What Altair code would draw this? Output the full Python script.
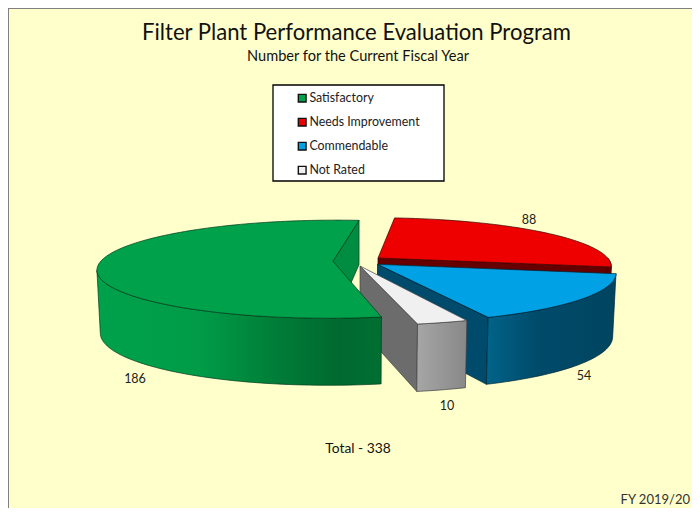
import math
import altair as alt

# ---- chart values ----
categories = ["Satisfactory", "Needs Improvement", "Commendable", "Not Rated"]
counts = [186, 88, 54, 10]
legend_colors = ["#00A14B", "#EE0000", "#00A2E5", "#F0F0F0"]
title_text = "Filter Plant Performance Evaluation Program"
subtitle_text = "Number for the Current Fiscal Year"
footer_text = "FY 2019/20"

# ---- look of each slice ----
face_colors = {"Satisfactory": "#008C41", "Needs Improvement": "#660000",
               "Commendable": "#004A6B", "Not Rated": "#6C6C6C"}
rim_stops = {
    "Satisfactory": [(0.0, "#00A14B"), (0.36, "#009C48"), (0.6, "#008039"), (0.85, "#00692F"), (1.0, "#006F32")],
    "Needs Improvement": [(0.0, "#660000"), (1.0, "#660000")],
    "Commendable": [(0.0, "#006488"), (0.12, "#005C80"), (0.4, "#004A6A"), (1.0, "#00455F")],
    "Not Rated": [(0.0, "#A6A6A6"), (1.0, "#888888")],
}
edge_colors = {"Satisfactory": "#003A1B", "Needs Improvement": "#3A0000",
               "Commendable": "#002636", "Not Rated": "#444444"}
label_spots = {"Satisfactory": (127, 371), "Needs Improvement": (521, 212),
               "Commendable": (576, 368), "Not Rated": (439, 398)}
# small angle corrections for the distortion of the 3-D view (start, end), degrees
angle_tweak = {"Satisfactory": (0.0, -0.5), "Needs Improvement": (-1.4, 0.0),
               "Commendable": (0.0, -1.0), "Not Rated": (0.7, 0.7)}
apex_shift = {"Satisfactory": 0.0, "Needs Improvement": 0.0, "Commendable": 0.0, "Not Rated": -0.022}

# ---- 3-D projection settings (page pixels minus 8 px page margin) ----
CX, CY, RX, RY, K = 350.0, 253.0, 232.0, 47.7, 0.163
EXPLODE, START = 0.108, 7.0
STEP = 1.5
W, H = 684, 500


def project(X, Y, low=False):
    w = 1 / (1 - K * Y)
    x = RX * X * w
    y = CY + RY * Y * w
    if low:
        y += 62 + (5 * Y if Y > 0 else 18 * Y)
        x *= 0.987
    return [CX + x, y]


total = sum(counts)
spans = {}
a = START - counts[0] / total * 360
for cat, n in zip(categories, counts):
    b = a + n / total * 360
    spans[cat] = (a, b)
    a = b


def drawn_span(cat):
    a, b = spans[cat]
    return a + angle_tweak[cat][0], b + angle_tweak[cat][1]


def centre(cat):
    a, b = spans[cat]
    m = math.radians((a + b) / 2)
    return EXPLODE * math.sin(m), -EXPLODE * math.cos(m)


def apex(cat):
    ox, oy = centre(cat)
    return ox + apex_shift[cat], oy


def rim(cat, deg):
    ox, oy = centre(cat)
    t = math.radians(deg)
    return ox + math.sin(t), oy - math.cos(t)


def arc_degs(a, b):
    n = max(2, int((b - a) / STEP))
    return [a + (b - a) * i / n for i in range(n + 1)]


def polygon(points):
    return {"type": "Feature", "geometry": {"type": "Polygon", "coordinates": [points + [points[0]]]},
            "properties": {}}


def face_polygon(cat):
    ox, oy = apex(cat)
    ex, ey = rim(cat, drawn_span(cat)[1])
    return polygon([project(ox, oy), project(ex, ey), project(ex, ey, True), project(ox, oy, True)])


def rim_polygon(cat):
    a, b = drawn_span(cat)
    if a < -90:                      # the big slice: from its start round to the left-most point
        degs = [d for d in arc_degs(a, b) if d <= -90]
        left = min(degs, key=lambda d: project(*rim(cat, d))[0])
        degs = [d for d in degs if d <= left]
    else:
        degs = arc_degs(max(a, 90), min(b, 270))
    top = [project(*rim(cat, d)) for d in degs]
    low = [project(*rim(cat, d), True) for d in degs]
    return polygon(top + low[::-1])


def top_polygon(cat):
    a, b = drawn_span(cat)
    return polygon([project(*apex(cat))] + [project(*rim(cat, d)) for d in arc_degs(a, b)])


projection = alt.Projection(type="identity", scale=1, translate=[0, 0]).to_dict()
layers = []

# plot frame
frame = alt.Chart(alt.Data(values=[{"v": 0}])).mark_rule(color="#808080", strokeWidth=2)
layers.append(frame.encode(x=alt.value(0), y=alt.value(0), y2=alt.value(H)))
layers.append(frame.encode(x=alt.value(0), x2=alt.value(W), y=alt.value(0)))

# legend box, under the legend itself
layers.append(alt.Chart(alt.Data(values=[{"v": 0}])).mark_rect(
    fill="white", stroke="black", strokeWidth=1.3
).encode(x=alt.value(265), x2=alt.value(436), y=alt.value(77), y2=alt.value(173)))

color_scale = alt.Scale(domain=categories, range=legend_colors)
legend = alt.Legend(
    orient="none", legendX=288, legendY=84, title=None, padding=0, zindex=1,
    symbolType="square", symbolSize=60, symbolStrokeColor="#111111", symbolStrokeWidth=1.4,
    labelFont="Lato", labelFontSize=12.4, labelColor="#222222", rowPadding=10,
    labelOffset=1, labelLimit=200,
)

# drawn from back to front
for cat in ["Needs Improvement", "Commendable", "Not Rated", "Satisfactory"]:
    edge = edge_colors[cat]
    layers.append(
        alt.Chart(alt.Data(values=[face_polygon(cat)])).mark_geoshape(
            fill=face_colors[cat], stroke=edge, strokeWidth=0.7
        ).project(**projection)
    )
    stops = [alt.GradientStop(offset=o, color=c) for o, c in rim_stops[cat]]
    layers.append(
        alt.Chart(alt.Data(values=[rim_polygon(cat)])).mark_geoshape(
            fill=alt.LinearGradient(gradient="linear", stops=stops, x1=0, x2=1, y1=0, y2=0),
            stroke=edge, strokeWidth=0.7,
        ).project(**projection)
    )
    layers.append(
        alt.Chart(alt.Data(values=[dict(top_polygon(cat), properties={"cat": cat})])).mark_geoshape(
            stroke=edge, strokeWidth=0.7
        ).encode(
            color=alt.Color("properties.cat:N", scale=color_scale, legend=legend),
        ).project(**projection)
    )


def note(text, x, y, size, align="center", color="#111111"):
    return alt.Chart(alt.Data(values=[{"t": text}])).mark_text(
        font="Lato", fontSize=size, align=align, baseline="middle", color=color
    ).encode(x=alt.value(x), y=alt.value(y), text="t:N")


for cat, n in zip(categories, counts):
    x, y = label_spots[cat]
    layers.append(note(str(n), x, y, 12.5, color="#222222"))

layers.append(note(title_text, 348.5, 25, 22.1))
layers.append(note(subtitle_text, 350, 49, 14.6))
layers.append(note(f"Total - {total}", 350, 441, 13.8))
layers.append(note(footer_text, 682, 492, 13, align="right", color="#333333"))

chart = alt.layer(*layers).properties(
    width=W, height=H, padding=0,
    background="#FFFFCC", autosize=alt.AutoSizeParams(type="none"),
).configure_view(stroke=None, fill="#FFFFCC")

chart.save("out.html", embed_options={"renderer": "svg", "actions": False})
